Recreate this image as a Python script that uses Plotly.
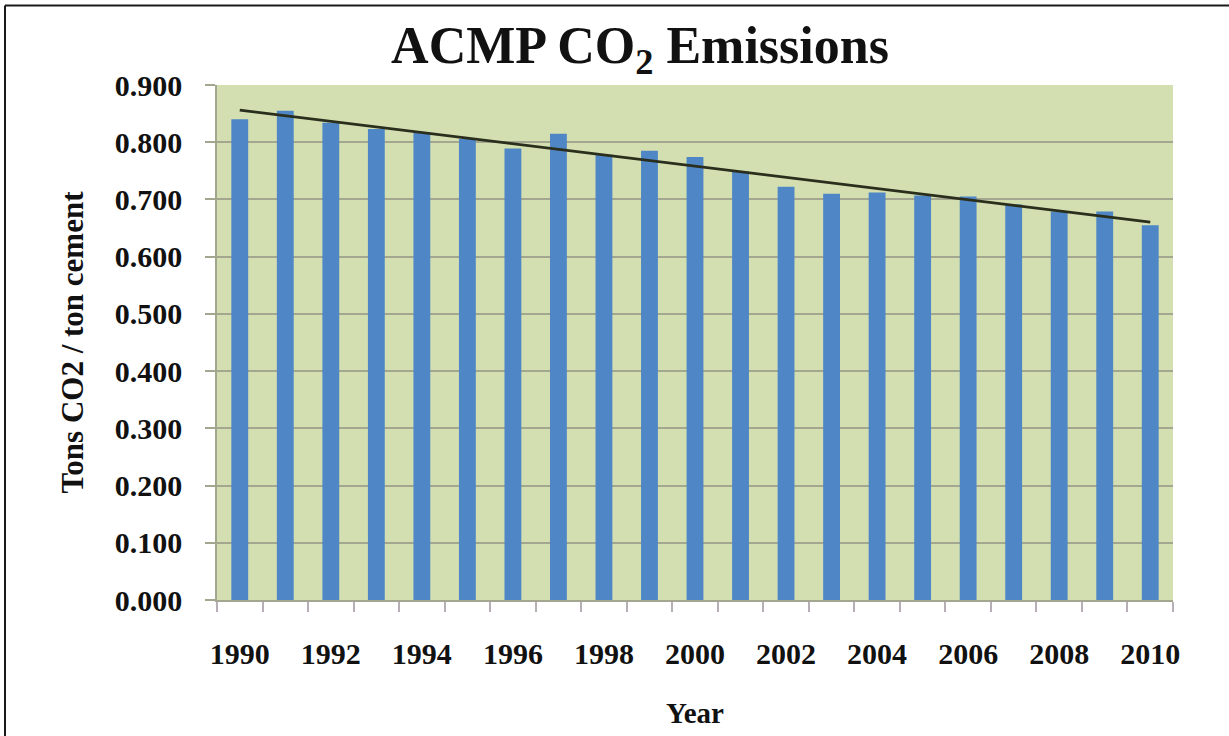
import numpy as np
import plotly.graph_objects as go

# ACMP CO2 intensity, tons CO2 per ton of cement
years = list(range(1990, 2011))
emissions = [0.840, 0.855, 0.834, 0.823, 0.817, 0.806, 0.789, 0.815, 0.778, 0.785,
             0.774, 0.749, 0.722, 0.710, 0.712, 0.707, 0.705, 0.691, 0.679, 0.679, 0.655]
y_ticks = [0.0, 0.1, 0.2, 0.3, 0.4, 0.5, 0.6, 0.7, 0.8, 0.9]
x_ticks = years[::2]

# linear trend line fitted to the yearly values
slope, intercept = np.polyfit(years, emissions, 1)
trend_x = [years[0], years[-1]]
trend_y = [slope * x + intercept for x in trend_x]

FONT = "Liberation Serif"
W, H = 1229, 736
L, R, T, B = 217, 56, 85, 133

fig = go.Figure()
fig.add_trace(go.Bar(x=years, y=emissions, width=0.37,
                     marker=dict(color="#4F86C6", line=dict(width=0)),
                     showlegend=False))
fig.add_trace(go.Scatter(x=trend_x, y=trend_y, mode="lines",
                         line=dict(color="#2A2E1C", width=2.8),
                         showlegend=False))

fig.update_layout(
    width=W, height=H,
    margin=dict(l=L, r=R, t=T, b=B),
    paper_bgcolor="white",
    plot_bgcolor="#D3DFB0",
    title=dict(text="<b>ACMP CO<sub>2</sub> Emissions</b>",
               font=dict(family=FONT, size=52, color="#111111"),
               x=640 / W, xanchor="center", xref="container",
               y=1 - 45 / H, yanchor="middle", yref="container"),
    xaxis=dict(range=[years[0] - 0.5, years[-1] + 0.5],
               tickvals=x_ticks, ticktext=[str(v) for v in x_ticks],
               ticks="", showgrid=False, zeroline=False,
               showline=True, linecolor="#A3A78F", linewidth=1.5,
               tickfont=dict(family=FONT, size=30, color="#111111", weight="bold"),
               ticklabelstandoff=26,
               minor=dict(tick0=years[0] - 0.5, dtick=1, ticks="outside",
                          ticklen=10, tickcolor="#B8AEB8", tickwidth=1.5,
                          showgrid=False),
               title=dict(text="<b>Year</b>",
                          font=dict(family=FONT, size=29, color="#111111"),
                          standoff=34)),
    yaxis=dict(range=[0, 0.9], tickvals=y_ticks,
               ticktext=[f"{v:.3f}" for v in y_ticks],
               ticks="outside", ticklen=10, tickcolor="#A3A78F", tickwidth=1.5,
               showgrid=True, gridcolor="#A3A78F", gridwidth=1.5,
               zeroline=False, showline=True, linecolor="#A3A78F", linewidth=1.5,
               tickfont=dict(family=FONT, size=30, color="#111111", weight="bold"),
               ticklabelstandoff=17,
               title=dict(text="<b>Tons CO2 / ton cement</b>",
                          font=dict(family=FONT, size=31, color="#111111"),
                          standoff=22)),
)

# outer frame drawn along the top and left edges of the figure
def px_x(p):
    return (p - L) / (W - L - R)

def px_y(p):
    return (H - B - p) / (H - T - B)

frame = dict(color="#1A1A1A", width=2)
fig.add_shape(type="line", xref="paper", yref="paper",
              x0=px_x(5), x1=px_x(W + 5), y0=px_y(5), y1=px_y(5), line=frame)
fig.add_shape(type="line", xref="paper", yref="paper",
              x0=px_x(5), x1=px_x(5), y0=px_y(5), y1=px_y(H + 5), line=frame)

fig.write_html("out.html")
